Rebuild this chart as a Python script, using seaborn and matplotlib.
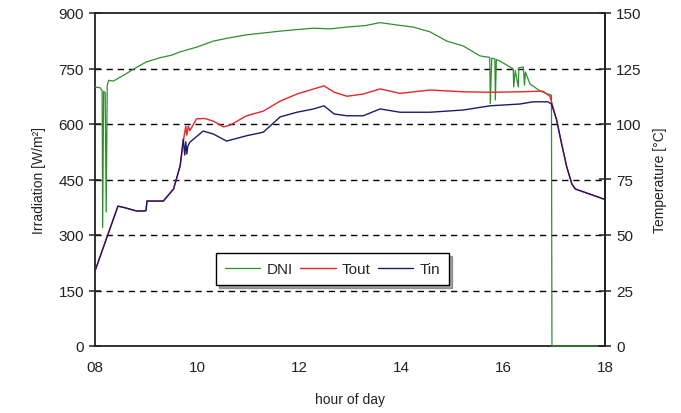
import matplotlib
matplotlib.use("Agg")
import matplotlib.pyplot as plt
import seaborn as sns
import pandas as pd

# ---- data ----
dni_hour = [8.00, 8.10, 8.14, 8.15, 8.17, 8.20, 8.22, 8.24, 8.27, 8.36, 8.6, 8.8, 9.01, 9.3,
            9.5, 9.67, 10.0, 10.32, 10.6, 10.97, 11.3, 11.63, 11.95, 12.29, 12.6, 12.94,
            13.3, 13.59, 13.9, 14.24, 14.57, 14.9, 15.22, 15.55, 15.74, 15.75, 15.78,
            15.84, 15.85, 15.87, 15.94, 16.2, 16.21, 16.24, 16.3, 16.31, 16.4, 16.42,
            16.44, 16.53, 16.73, 16.88, 16.95, 16.96, 17.85]
dni_value = [700, 698, 690, 320, 688, 685, 362, 705, 718, 716, 735, 752, 768, 780,
             786, 795, 808, 824, 832, 841, 846, 851, 855, 859, 857, 862,
             866, 874, 868, 862, 849, 824, 811, 784, 780, 655, 778,
             776, 665, 774, 770, 749, 700, 745, 700, 752, 754, 705,
             740, 708, 689, 681, 678, 0, 0]

tout_hour = [8.0, 8.45, 8.55, 8.82, 8.94, 9.0, 9.02, 9.34, 9.54, 9.67, 9.75, 9.78, 9.8,
             9.83, 9.86, 9.99, 10.15, 10.32, 10.52, 10.65, 10.97, 11.3, 11.63, 11.96,
             12.29, 12.49, 12.69, 12.94, 13.26, 13.59, 13.98, 14.57, 15.22, 15.75,
             16.33, 16.78, 16.92, 17.05, 17.15, 17.25, 17.35, 17.42, 18.0]
tout_temp = [33.8, 63.0, 62.5, 60.8, 60.8, 61.0, 65.3, 65.3, 70.7, 81.2, 95.0, 99.0, 95.0,
             99.0, 97.0, 102.3, 102.5, 101.3, 98.7, 99.5, 103.7, 105.8, 110.3, 113.5,
             115.8, 117.2, 114.3, 112.5, 113.5, 115.8, 113.8, 115.3, 114.5, 114.3,
             114.5, 114.8, 112.5, 102.0, 91.0, 80.7, 73.0, 70.7, 66.0]

tin_hour = [8.0, 8.45, 8.55, 8.82, 8.94, 9.0, 9.02, 9.34, 9.54, 9.67, 9.73, 9.76, 9.78,
            9.8, 9.82, 9.86, 10.12, 10.32, 10.58, 10.97, 11.3, 11.63, 11.96, 12.29,
            12.49, 12.69, 12.94, 13.26, 13.59, 13.98, 14.57, 15.22, 15.75, 16.33,
            16.59, 16.88, 16.95, 17.05, 17.15, 17.25, 17.35, 17.42, 18.0]
tin_temp = [33.8, 63.0, 62.5, 60.8, 60.8, 61.0, 65.3, 65.3, 70.7, 81.2, 93.2, 86.0, 92.0,
            86.5, 90.0, 91.8, 96.8, 95.5, 92.3, 94.7, 96.3, 103.2, 105.3, 106.8,
            108.2, 104.5, 103.7, 103.7, 106.8, 105.3, 105.3, 106.3, 108.2, 109.0,
            110.0, 110.0, 109.0, 102.0, 91.0, 80.7, 73.0, 70.7, 66.0]

x_ticks = [8, 10, 12, 14, 16, 18]
x_labels = ["08", "10", "12", "14", "16", "18"]
irr_ticks = [0, 150, 300, 450, 600, 750, 900]
temp_ticks = [0, 25, 50, 75, 100, 125, 150]

GREEN = "#2f8f2f"
RED = "#e8262a"
BLUE = "#1c1c6a"

sns.set_theme(style="white")
plt.rcParams["font.family"] = ["Liberation Sans", "DejaVu Sans"]

fig = plt.figure(figsize=(6.81, 4.14), dpi=100)
ax = fig.add_axes([95 / 681, 67 / 414, 510 / 681, 333 / 414])
ax2 = ax.twinx()

df_dni = pd.DataFrame({"hour": dni_hour, "val": dni_value})
df_out = pd.DataFrame({"hour": tout_hour, "val": tout_temp})
df_in = pd.DataFrame({"hour": tin_hour, "val": tin_temp})

sns.lineplot(data=df_out, x="hour", y="val", ax=ax2, color=RED, lw=1.0,
             estimator=None, sort=False, label="Tout", legend=False)
sns.lineplot(data=df_in, x="hour", y="val", ax=ax2, color=BLUE, lw=1.0,
             estimator=None, sort=False, label="Tin", legend=False)
# DNI drawn on the top axes so its zero segment shows over the bottom spine
sns.lineplot(data=df_dni, x="hour", y="val", ax=ax, color=GREEN, lw=0.9,
             estimator=None, sort=False, label="DNI", legend=False)

ax.set_xlim(8, 18)
ax.set_ylim(0, 900)
ax2.set_ylim(0, 150)
ax.set_xticks(x_ticks)
ax.set_xticklabels(x_labels)
ax.set_yticks(irr_ticks)
ax2.set_yticks(temp_ticks)

for ln in ax.get_lines():
    ln.set_clip_on(False)
    ln.set_zorder(3)

for y in irr_ticks[1:-1]:
    ax.axhline(y, color="black", lw=1.0, ls=(0, (4.5, 3.5)), zorder=0.5)

for a in (ax, ax2):
    for s in a.spines.values():
        s.set_color("#222222")
        s.set_linewidth(1.3)
    a.tick_params(axis="both", direction="inout", length=8, width=1.1,
                  colors="#222222", labelsize=11, pad=4)
ax2.spines["bottom"].set_visible(False)
ax2.spines["top"].set_visible(False)
ax2.spines["left"].set_visible(False)

ax.tick_params(axis="x", pad=6)
ax.set_xlabel("hour of day", fontsize=10, color="#222222", labelpad=13)
ax.set_ylabel("Irradiation [W/m²]", fontsize=10, color="#222222", labelpad=9)
ax2.set_ylabel("Temperature [°C]", fontsize=10, color="#222222", labelpad=8)

h1, l1 = ax.get_legend_handles_labels()
h2, l2 = ax2.get_legend_handles_labels()
leg = ax2.legend(h1 + h2, l1 + l2, loc="center", bbox_to_anchor=(0.466, 0.231),
                 ncol=3, frameon=True, fancybox=False, shadow=True,
                 fontsize=11, handlelength=2.3, handletextpad=0.4,
                 columnspacing=0.5, borderpad=0.6, borderaxespad=0)
leg.get_frame().set_edgecolor("black")
leg.get_frame().set_linewidth(1.0)

fig.savefig("out.png", dpi=100)
